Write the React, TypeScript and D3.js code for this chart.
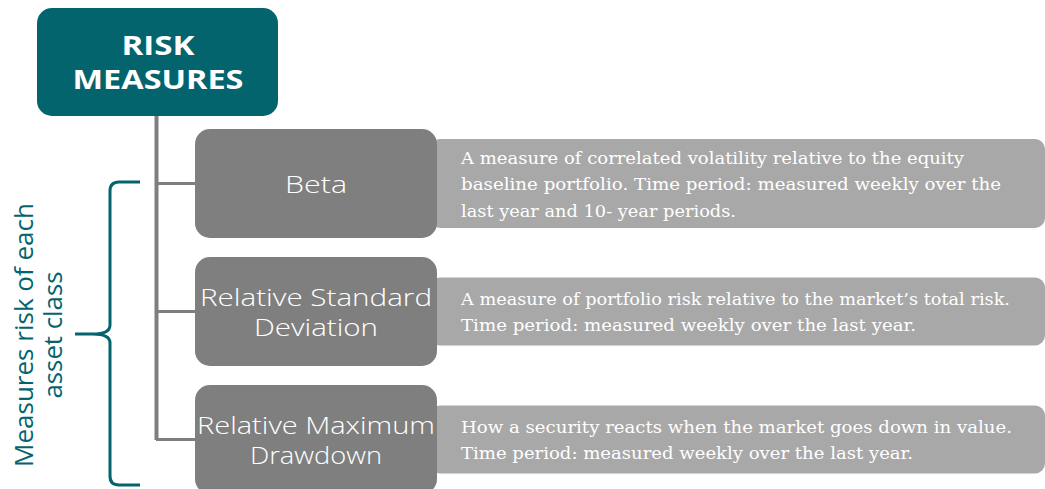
import React from "react";
import * as d3 from "d3";

const title = ["RISK", "MEASURES"];
const categories = [["Beta"], ["Relative Standard", "Deviation"], ["Relative Maximum", "Drawdown"]];
const descriptions = [
  [
    "A measure of correlated volatility relative to the equity",
    "baseline portfolio. Time period: measured weekly over the",
    "last year and 10- year periods.",
  ],
  [
    "A measure of portfolio risk relative to the market\u2019s total risk.",
    "Time period: measured weekly over the last year.",
  ],
  [
    "How a security reacts when the market goes down in value.",
    "Time period: measured weekly over the last year.",
  ],
];
const sideLabel = ["Measures risk of each", "asset class"];

// layout (styles / sizes)
const descWidths = [[503, 540, 275], [549, 455], [551, 452]];
const catWidths = [[62], [232, 124], [238, 132]];
const TEAL = "#03646e";
const DARK = "#7f7f7f";
const LIGHT = "#a8a8a8";

export default function App() {
  const W = 1045, H = 489;
  const rowY = d3.scaleLinear().domain([0, 2]).range([183.5, 439.5]);
  const catFont = "'Open Sans', Lato, sans-serif";
  const descFont = "'DejaVu Serif', serif";

  const brace = d3.path();
  const bx = 110, tip = 75, top = 182, mid = 334, bot = 485, r = 9;
  brace.moveTo(140, top);
  brace.lineTo(bx + r, top);
  brace.quadraticCurveTo(bx, top, bx, top + r);
  brace.lineTo(bx, mid - r);
  brace.quadraticCurveTo(bx, mid, bx - r - 8, mid);
  brace.lineTo(tip, mid);
  brace.moveTo(bx - r - 8, mid);
  brace.quadraticCurveTo(bx, mid, bx, mid + r);
  brace.lineTo(bx, bot - r);
  brace.quadraticCurveTo(bx, bot, bx + r, bot);
  brace.lineTo(140, bot);

  return (
    <svg width={W} height={H} style={{ position: "absolute", left: 0, top: 0 }}>
      <rect width={W} height={H} fill="#fff" />
      {/* trunk */}
      <line x1={156.5} x2={156.5} y1={116} y2={440} stroke={DARK} strokeWidth={4} />
      {categories.map((_, i) => (
        <line key={"b" + i} x1={156} x2={200} y1={rowY(i)} y2={rowY(i)} stroke={DARK} strokeWidth={3} />
      ))}
      {/* title */}
      <rect x={37} y={8} width={241} height={108} rx={15} fill={TEAL} />
      {title.map((t, i) => (
        <text key={t} x={158} y={55 + i * 34} textAnchor="middle" fill="#fff"
          fontFamily="'Open Sans', Lato, sans-serif" fontWeight={700} fontSize={27}
          textLength={i === 0 ? 73 : 171} lengthAdjust="spacingAndGlyphs">{t}</text>
      ))}
      {/* description boxes */}
      {descriptions.map((lines, i) => {
        const h = lines.length === 3 ? 89 : 68;
        const cy = rowY(i);
        const lh = 26.5;
        const midB = cy + 6.5;
        return (
          <g key={"d" + i}>
            <rect x={430} y={cy - h / 2} width={615} height={h} rx={10} fill={LIGHT} />
            {lines.map((l, j) => (
              <text key={j} x={461} y={midB + (j - (lines.length - 1) / 2) * lh} fill="#fff"
                fontFamily={descFont} fontSize={16.5} textLength={descWidths[i][j]} lengthAdjust="spacingAndGlyphs">{l}</text>
            ))}
          </g>
        );
      })}
      {/* category boxes */}
      {categories.map((lines, i) => {
        const cy = rowY(i);
        const lh = 30;
        return (
          <g key={"c" + i}>
            <rect x={195} y={cy - 54.5} width={242} height={109} rx={15} fill={DARK} />
            {lines.map((l, j) => (
              <text key={j} x={316} y={cy + 9 + (j - (lines.length - 1) / 2) * lh} textAnchor="middle"
                fill="#fff" fontFamily={catFont} fontWeight={300} fontSize={24}
                textLength={catWidths[i][j]} lengthAdjust="spacingAndGlyphs">{l}</text>
            ))}
          </g>
        );
      })}
      {/* brace & side label */}
      <path d={brace.toString()} fill="none" stroke={TEAL} strokeWidth={3} />
      {sideLabel.map((t, i) => (
        <text key={t} transform={`translate(${33 + i * 29},335) rotate(-90)`} textAnchor="middle"
          fill={TEAL} fontFamily={catFont} fontWeight={400} fontSize={25}
          textLength={i === 0 ? 264 : 127} lengthAdjust="spacingAndGlyphs">{t}</text>
      ))}
    </svg>
  );
}
